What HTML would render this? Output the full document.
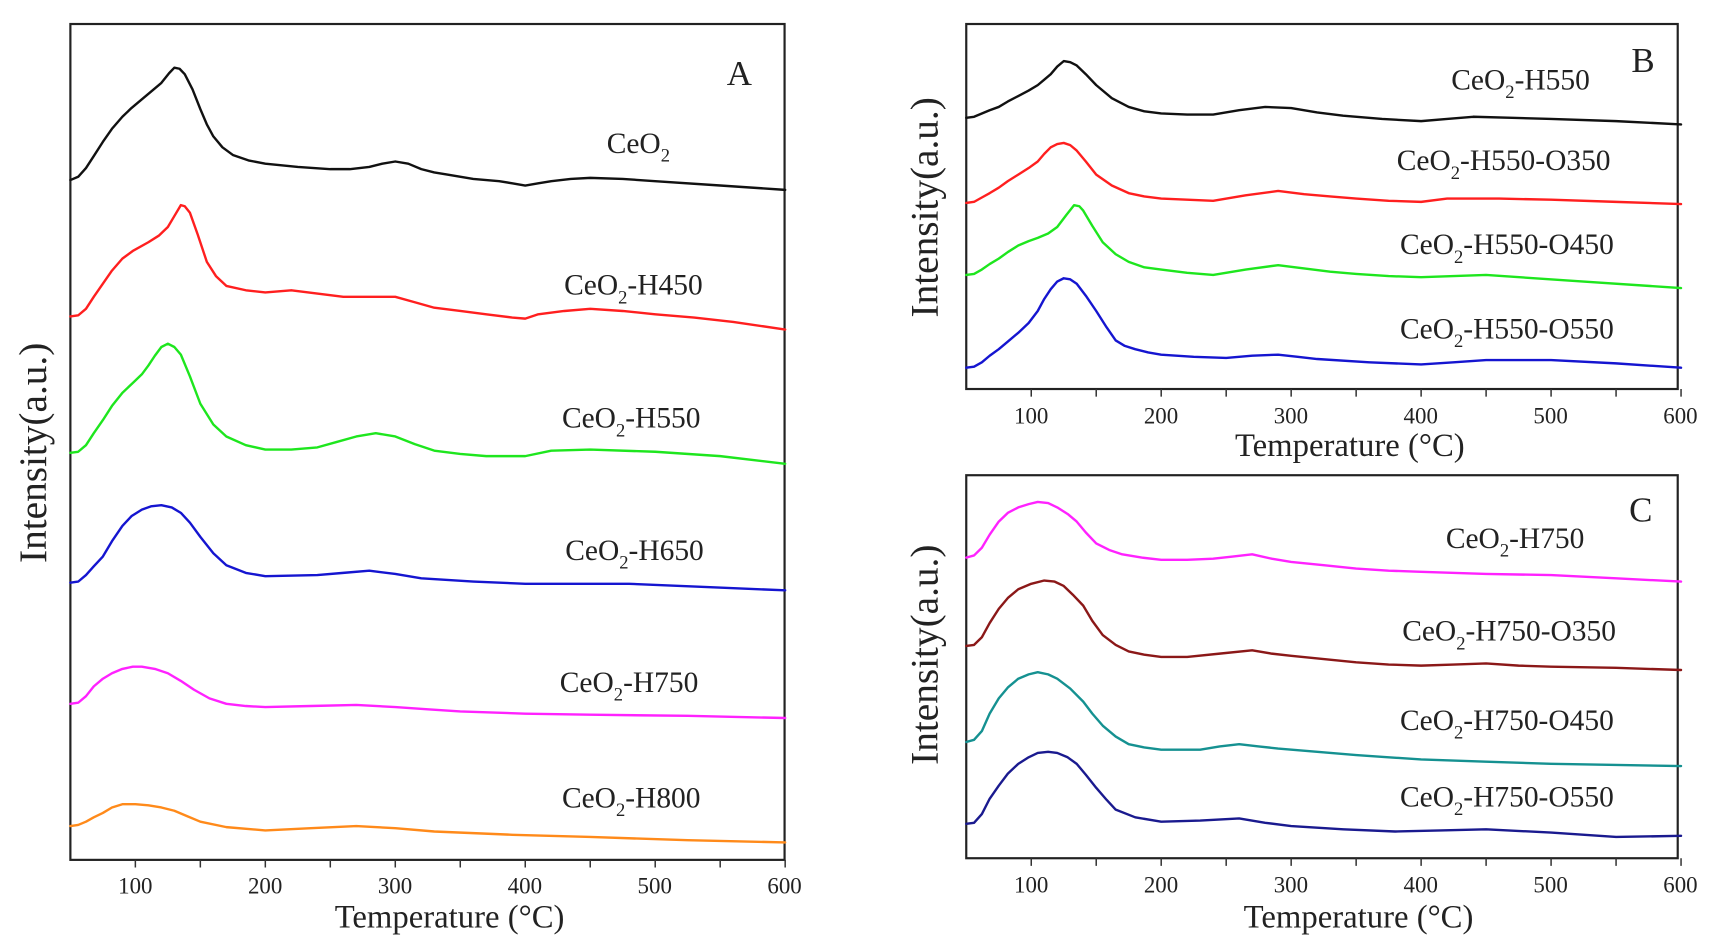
<!DOCTYPE html>
<html><head><meta charset="utf-8"><style>
html,body{margin:0;padding:0;background:#fff;}
svg{display:block;}
text{font-family:"Liberation Serif",serif;fill:#222;}
polyline,line{vector-effect:non-scaling-stroke;}
</style></head><body>
<svg width="1711" height="950" viewBox="0 0 1568 870.6" xmlns="http://www.w3.org/2000/svg">
<g fill="none" stroke="#222" stroke-width="2">
<rect x="64.5" y="22" width="654.5" height="766"/>
<rect x="885.5" y="22" width="652" height="334.5"/>
<rect x="885.5" y="435.5" width="652" height="351"/>
</g>
<g transform="translate(4.95,0) scale(1.191,1)">
<g stroke="#333" stroke-width="1.5">
<line x1="100" x2="100" y1="788" y2="795"/><line x1="150" x2="150" y1="788" y2="795"/><line x1="200" x2="200" y1="788" y2="795"/><line x1="250" x2="250" y1="788" y2="795"/><line x1="300" x2="300" y1="788" y2="795"/><line x1="350" x2="350" y1="788" y2="795"/><line x1="400" x2="400" y1="788" y2="795"/><line x1="450" x2="450" y1="788" y2="795"/><line x1="500" x2="500" y1="788" y2="795"/><line x1="550" x2="550" y1="788" y2="795"/><line x1="600" x2="600" y1="788" y2="795"/>
</g>
<g fill="none" stroke-width="2.4" stroke-linejoin="round" stroke-linecap="round">
<polyline stroke="#111" points="50,165 56,162 62,154 68,143 75,130 82,118 90,107 97,99 105,91 112,84 120,76 126,67 130,62 134,63 138,68 144,82 150,100 155,114 160,125 167,135 175,142 187,147 200,150 225,153 250,155 265,155 280,153 290,150 300,148 310,150 320,155 330,158 340,160 360,164 380,166 390,168 400,170 410,168 420,166 435,164 450,163 475,164 500,166 550,170 600,174"/>
<polyline stroke="#ff1f1f" points="50,290 56,289 62,283 68,272 75,260 82,248 90,237 98,230 110,222 118,216 125,208 130,198 135,188 138,189 142,195 148,215 155,240 162,253 170,262 185,266 200,268 220,266 240,269 260,272 300,272 315,277 330,282 350,285 370,288 390,291 400,292 410,288 430,285 450,283 475,285 500,288 530,291 560,295 600,302"/>
<polyline stroke="#1ee61e" points="50,415 56,414 62,408 68,397 75,385 82,372 90,360 98,351 105,343 110,335 115,326 120,318 125,315 130,318 135,325 142,345 150,370 160,389 170,400 185,408 200,412 220,412 240,410 255,405 270,400 285,397 300,400 315,407 330,413 350,416 370,418 400,418 420,413 450,412 500,414 550,418 600,425"/>
<polyline stroke="#1515d0" points="50,534 56,533 62,527 68,519 75,510 82,496 90,482 97,473 105,467 112,464 120,463 128,465 135,470 142,479 150,492 160,507 170,518 185,525 200,528 240,527 260,525 280,523 300,526 320,530 360,533 400,535 480,535 540,538 600,541"/>
<polyline stroke="#ff22ff" points="50,645 56,644 62,638 68,629 75,622 82,617 90,613 98,611 105,611 115,613 125,617 135,624 145,632 157,640 170,645 185,647 200,648 235,647 270,646 300,648 325,650 350,652 400,654 450,655 525,656 600,658"/>
<polyline stroke="#ff8a1a" points="50,757 56,756 62,753 68,749 75,745 82,740 90,737 100,737 110,738 120,740 130,743 140,748 150,753 170,758 200,761 235,759 270,757 300,759 330,762 390,765 450,767 525,770 600,772"/>
</g>
</g>
<g transform="translate(825.95,0) scale(1.191,1)">
<g stroke="#333" stroke-width="1.5">
<line x1="100" x2="100" y1="356.5" y2="363.5"/><line x1="150" x2="150" y1="356.5" y2="363.5"/><line x1="200" x2="200" y1="356.5" y2="363.5"/><line x1="250" x2="250" y1="356.5" y2="363.5"/><line x1="300" x2="300" y1="356.5" y2="363.5"/><line x1="350" x2="350" y1="356.5" y2="363.5"/><line x1="400" x2="400" y1="356.5" y2="363.5"/><line x1="450" x2="450" y1="356.5" y2="363.5"/><line x1="500" x2="500" y1="356.5" y2="363.5"/><line x1="550" x2="550" y1="356.5" y2="363.5"/><line x1="600" x2="600" y1="356.5" y2="363.5"/>
<line x1="100" x2="100" y1="786.5" y2="793.5"/><line x1="150" x2="150" y1="786.5" y2="793.5"/><line x1="200" x2="200" y1="786.5" y2="793.5"/><line x1="250" x2="250" y1="786.5" y2="793.5"/><line x1="300" x2="300" y1="786.5" y2="793.5"/><line x1="350" x2="350" y1="786.5" y2="793.5"/><line x1="400" x2="400" y1="786.5" y2="793.5"/><line x1="450" x2="450" y1="786.5" y2="793.5"/><line x1="500" x2="500" y1="786.5" y2="793.5"/><line x1="550" x2="550" y1="786.5" y2="793.5"/><line x1="600" x2="600" y1="786.5" y2="793.5"/>
</g>
<g fill="none" stroke-width="2.4" stroke-linejoin="round" stroke-linecap="round">
<polyline stroke="#111" points="50,108 56,107 62,104 68,101 75,98 82,93 90,88 98,83 105,78 110,73 115,68 120,61 125,56 130,57 135,60 142,68 150,78 162,90 175,98 187,102 200,104 220,105 240,105 260,101 280,98 300,99 320,103 340,106 370,109 400,111 420,109 440,107 470,108 500,109 550,111 600,114"/>
<polyline stroke="#ff1f1f" points="50,186 56,185 62,181 68,177 75,172 82,166 90,160 98,154 105,148 110,141 115,135 120,132 125,131 130,133 135,138 142,148 150,160 162,170 175,177 187,180 200,182 220,183 240,184 265,179 290,175 310,178 330,180 350,182 375,184 400,185 420,182 460,182 500,183 550,185 600,187"/>
<polyline stroke="#1ee61e" points="50,252 56,251 62,247 68,242 75,237 82,231 90,225 98,221 105,218 113,214 120,208 127,197 133,188 137,189 140,193 147,207 155,222 165,233 175,240 187,245 200,247 220,250 240,252 265,247 290,243 310,246 330,249 350,251 375,253 400,254 425,253 450,252 525,258 600,264"/>
<polyline stroke="#1515d0" points="50,337 56,336 62,332 68,326 75,320 82,313 90,305 98,296 105,285 110,274 115,265 120,258 125,255 130,256 135,260 142,271 150,285 158,300 165,312 172,317 180,320 190,323 200,325 225,327 250,328 270,326 290,325 305,327 320,329 360,332 400,334 425,332 450,330 500,330 550,333 600,337"/>
<polyline stroke="#ff22ff" points="50,511 56,509 62,502 68,490 75,478 82,470 90,465 98,462 105,460 113,461 120,465 128,471 135,478 142,488 150,498 160,504 170,508 185,511 200,513 220,513 240,512 255,510 270,508 285,512 300,515 325,518 350,521 375,523 400,524 450,526 500,527 550,530 600,533"/>
<polyline stroke="#8b1818" points="50,592 56,591 62,584 68,571 75,558 82,548 90,540 100,535 110,532 118,533 125,537 132,545 140,555 147,569 155,582 165,591 175,597 187,600 200,602 220,602 245,599 270,596 285,599 300,601 325,604 350,607 375,609 400,610 425,609 450,608 475,610 500,611 550,612 600,614"/>
<polyline stroke="#159191" points="50,680 56,678 62,670 68,654 75,640 82,630 90,622 98,618 105,616 113,618 120,622 130,631 140,643 147,654 155,665 165,675 175,682 187,685 200,687 230,687 245,684 260,682 275,684 290,686 320,689 350,692 375,694 400,696 450,698 500,700 550,701 600,702"/>
<polyline stroke="#1a1a8f" points="50,755 56,754 62,746 68,732 75,720 82,709 90,700 98,694 105,690 113,689 120,690 128,694 135,700 142,710 150,722 158,733 165,742 180,749 200,753 230,752 260,750 280,754 300,757 340,760 380,762 415,761 450,760 500,763 550,767 600,766"/>
</g>
</g>
<g font-size="21" text-anchor="middle">
<text x="124" y="819">100</text><text x="243" y="819">200</text><text x="362" y="819">300</text><text x="481" y="819">400</text><text x="600" y="819">500</text><text x="719" y="819">600</text>
<text x="945" y="388">100</text><text x="1064" y="388">200</text><text x="1183" y="388">300</text><text x="1302" y="388">400</text><text x="1421" y="388">500</text><text x="1540" y="388">600</text>
<text x="945" y="818">100</text><text x="1064" y="818">200</text><text x="1183" y="818">300</text><text x="1302" y="818">400</text><text x="1421" y="818">500</text><text x="1540" y="818">600</text>
</g>
<g font-size="30" text-anchor="middle">
<text x="412" y="850">Temperature (°C)</text>
<text x="1237" y="418">Temperature (°C)</text>
<text x="1245" y="850">Temperature (°C)</text>
</g>
<g font-size="36" text-anchor="middle">
<text transform="translate(42,415) rotate(-90)">Intensity(a.u.)</text>
<text transform="translate(859,190) rotate(-90)">Intensity(a.u.)</text>
<text transform="translate(859,600) rotate(-90)">Intensity(a.u.)</text>
</g>
<g font-size="32">
<text x="666" y="78">A</text>
<text x="1495" y="66">B</text>
<text x="1493" y="478">C</text>
</g>
<g font-size="27">
<text x="556" y="140">CeO<tspan font-size="17" dy="8">2</tspan></text>
<text x="517" y="270">CeO<tspan font-size="17" dy="8">2</tspan><tspan dy="-8">-H450</tspan></text>
<text x="515" y="392">CeO<tspan font-size="17" dy="8">2</tspan><tspan dy="-8">-H550</tspan></text>
<text x="518" y="513">CeO<tspan font-size="17" dy="8">2</tspan><tspan dy="-8">-H650</tspan></text>
<text x="513" y="634">CeO<tspan font-size="17" dy="8">2</tspan><tspan dy="-8">-H750</tspan></text>
<text x="515" y="740">CeO<tspan font-size="17" dy="8">2</tspan><tspan dy="-8">-H800</tspan></text>
<text x="1330" y="82">CeO<tspan font-size="17" dy="8">2</tspan><tspan dy="-8">-H550</tspan></text>
<text x="1280" y="156">CeO<tspan font-size="17" dy="8">2</tspan><tspan dy="-8">-H550-O350</tspan></text>
<text x="1283" y="233">CeO<tspan font-size="17" dy="8">2</tspan><tspan dy="-8">-H550-O450</tspan></text>
<text x="1283" y="310">CeO<tspan font-size="17" dy="8">2</tspan><tspan dy="-8">-H550-O550</tspan></text>
<text x="1325" y="502">CeO<tspan font-size="17" dy="8">2</tspan><tspan dy="-8">-H750</tspan></text>
<text x="1285" y="587">CeO<tspan font-size="17" dy="8">2</tspan><tspan dy="-8">-H750-O350</tspan></text>
<text x="1283" y="669">CeO<tspan font-size="17" dy="8">2</tspan><tspan dy="-8">-H750-O450</tspan></text>
<text x="1283" y="739">CeO<tspan font-size="17" dy="8">2</tspan><tspan dy="-8">-H750-O550</tspan></text>
</g>
</svg>
</body></html>
